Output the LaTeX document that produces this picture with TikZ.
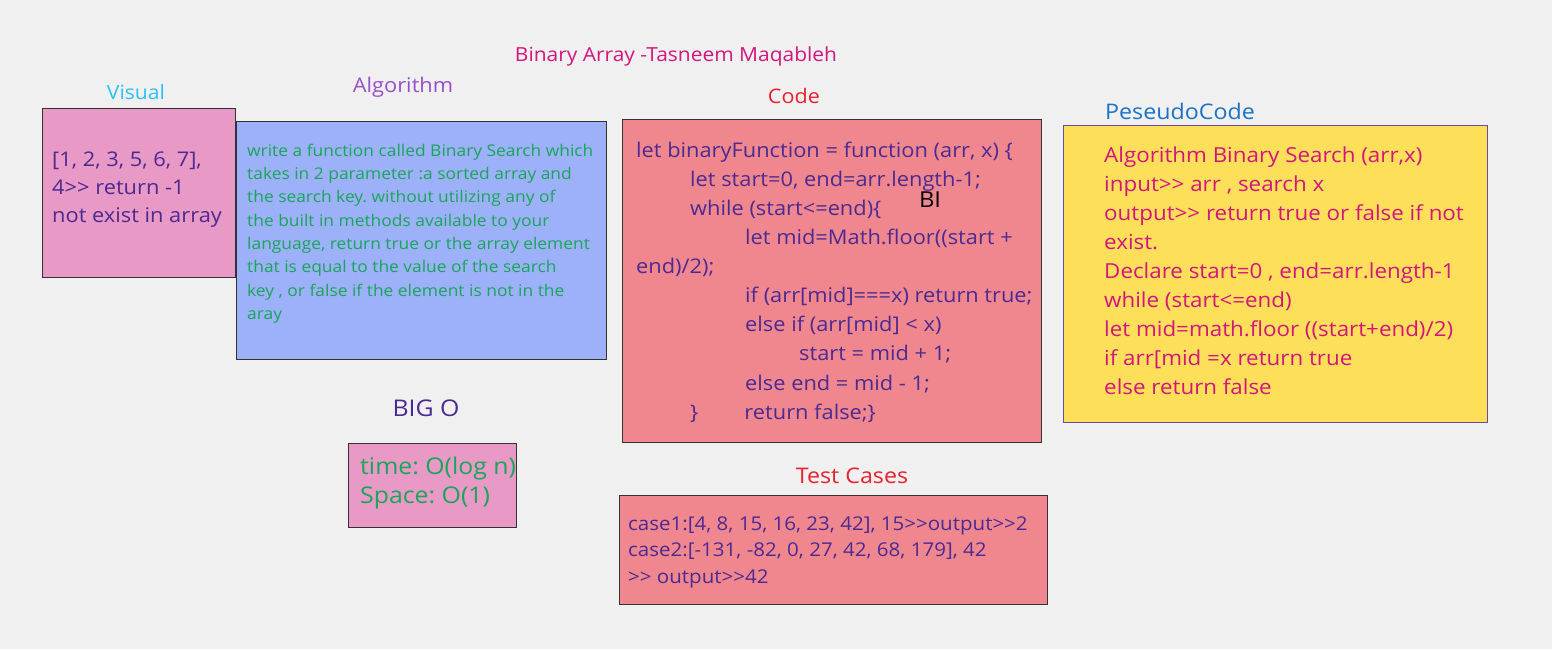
\documentclass[tikz,border=0pt]{standalone}
\usepackage{fontspec}
\setmainfont{Open Sans}[FakeStretch=1.08]
\definecolor{bg}{HTML}{F0F0F0}
\definecolor{pinkbox}{HTML}{E899C5}
\definecolor{bluebox}{HTML}{9DB0FA}
\definecolor{redbox}{HTML}{F0878F}
\definecolor{yellowbox}{HTML}{FDDF5A}
\definecolor{edgegray}{HTML}{333333}
\definecolor{edgepurple}{HTML}{6B4BA0}
\definecolor{magentatxt}{HTML}{D4157E}
\definecolor{cyantxt}{HTML}{2BC3F5}
\definecolor{violettxt}{HTML}{9650C8}
\definecolor{redtxt}{HTML}{E8212F}
\definecolor{bluetxt}{HTML}{1A73C8}
\definecolor{indigotxt}{HTML}{4B2A91}
\definecolor{greentxt}{HTML}{17A65A}
\newcommand{\gtgt}{>{}>}
\frenchspacing
\tikzset{
  panel/.style={draw=edgegray, line width=1.3pt, anchor=north west, inner sep=0pt},
  body/.style={anchor=north west, align=left, inner sep=0pt},
  heading/.style={inner sep=0pt},
}
\begin{document}
\begin{tikzpicture}[x=1pt,y=-1pt]
\fill[bg] (0,0) rectangle (1552,649);
\useasboundingbox (0,0) rectangle (1552,649);

% panels
\node[panel, fill=pinkbox, minimum width=193pt, minimum height=169pt] (visualbox) at (42,108) {};
\node[panel, fill=bluebox, minimum width=370pt, minimum height=238pt] (algobox) at (236,121) {};
\node[panel, fill=redbox, minimum width=419pt, minimum height=323pt] (codebox) at (622,119) {};
\node[panel, draw=edgepurple, fill=yellowbox, minimum width=424pt, minimum height=297pt] (pseudobox) at (1063,125) {};
\node[panel, fill=pinkbox, minimum width=168pt, minimum height=84pt] (bigobox) at (348,443) {};
\node[panel, fill=redbox, minimum width=428pt, minimum height=109pt] (testbox) at (619,495) {};

% headings
\node[heading, text=magentatxt, font=\fontsize{19.4}{22}\selectfont] (title) at (676,56) {Binary Array -Tasneem Maqableh};
\node[heading, text=cyantxt, font=\fontsize{19.6}{24}\selectfont] (visualhead) at (136,92) {Visual};
\node[heading, text=violettxt, font=\fontsize{20.2}{24}\selectfont] (algohead) at (403,87) {Algorithm};
\node[heading, text=redtxt, font=\fontsize{20}{24}\selectfont] (codehead) at (794,96) {Code};
\node[heading, text=bluetxt, font=\fontsize{21.5}{28}\selectfont] (pseudohead) at (1180,111) {PeseudoCode};
\node[heading, text=indigotxt, font=\fontsize{23}{28}\selectfont] (bigohead) at (426,408) {BIG O};
\node[heading, text=redtxt, font=\fontsize{21.5}{24}\selectfont] (testhead) at (852,476) {Test Cases};
\node[heading, text=black, font=\fontsize{22}{24}\selectfont] (bimark) at (930,200) {BI};

% bodies
\node[body, text=indigotxt, font=\fontsize{20.2}{28}\selectfont] (visualtxt) at (52,146)
 {\rule{0pt}{20pt}[1, 2, 3, 5, 6, 7],\\4\gtgt{} return -1\\not exist in array};

\node[body, text=greentxt, font=\fontsize{16.1}{23.3}\selectfont] (algotxt) at (247,139)
 {\rule{0pt}{17pt}write a function called Binary Search which\\
 takes in 2 parameter :a sorted array and\\
 the search key. without utilizing any of\\
 the built in methods available to your\\
 language, return true or the array element\\
 that is equal to the value of the search\\
 key , or false if the element is not in the\\
 aray};

\node[body, text=indigotxt, font=\fontsize{20.2}{29.1}\selectfont] (codetxt) at (636,137)
 {\rule{0pt}{20pt}let binaryFunction = function (arr, x) \{\\
 \hspace*{54pt}let start=0, end=arr.length-1;\\
 \hspace*{54pt}while (start<=end)\{\\
 \hspace*{109pt}let mid=Math.floor((start +\\
 end)/2);\\
 \hspace*{109pt}if (arr[mid]===x) return true;\\
 \hspace*{109pt}else if (arr[mid] < x)\\
 \hspace*{163pt}start = mid + 1;\\
 \hspace*{109pt}else end = mid - 1;\\
 \hspace*{54pt}\}\hspace*{46pt}return false;\}};

\node[body, text=magentatxt, font=\fontsize{20.7}{29}\selectfont] (pseudotxt) at (1104,142)
 {\rule{0pt}{20pt}Algorithm Binary Search (arr,x)\\
 input\gtgt{} arr , search x\\
 output\gtgt{} return true or false if not\\
 exist.\\
 Declare start=0 , end=arr.length-1\\
 while (start<=end)\\
 let mid=math.floor ((start+end)/2)\\
 if arr[mid =x return true\\
 else return false};

\node[body, text=greentxt, font=\fontsize{23}{29}\selectfont] (bigotxt) at (360,452)
 {\rule{0pt}{22pt}time: O(log n)\\Space: O(1)};

\node[body, text=indigotxt, font=\fontsize{19}{26.5}\selectfont] (testtxt) at (628,510)
 {\rule{0pt}{20pt}case1:[4, 8, 15, 16, 23, 42], 15\gtgt{}output\gtgt{}2\\
 case2:[-131, -82, 0, 27, 42, 68, 179], 42\\
 \gtgt{} output\gtgt{}42};
\end{tikzpicture}
\end{document}
